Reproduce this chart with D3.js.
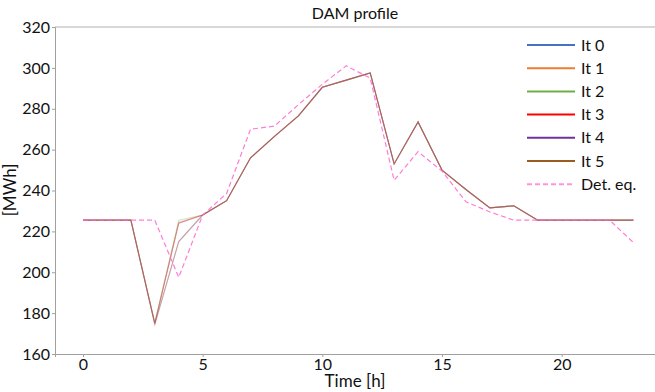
<!DOCTYPE html>
<html>
<head>
<meta charset="utf-8">
<script src="https://cdn.jsdelivr.net/npm/d3@7"></script>
<style>
  html, body { margin: 0; padding: 0; background: #fff; }
  svg { display: block; font-family: Lato, "Open Sans", sans-serif; }
</style>
</head>
<body>
<div id="chart"></div>
<script>
const width = 655;
const height = 392;
const margin = {top: 27, right: 0, bottom: 38, left: 55};

const hours = d3.range(24);
const xTicks = [0, 5, 10, 15, 20];
const yTicks = [160, 180, 200, 220, 240, 260, 280, 300, 320];

const it0 = [225.5, 225.5, 225.5, 175, 224, 228, 235, 256, 266.5, 276.5, 290.5, 294, 297.5, 253, 273.5, 250, 240.5, 231.5, 232.5, 225.5, 225.5, 225.5, 225.5, 225.5];
const it1 = [225.5, 225.5, 225.5, 175, 224.5, 228, 235, 256, 266.5, 276.5, 290.5, 294, 297.5, 253, 273.5, 250, 240.5, 231.5, 232.5, 225.5, 225.5, 225.5, 225.5, 225.5];
const it2 = [225.5, 225.5, 225.5, 175.5, 225.5, 228, 235, 256, 266.5, 276.5, 290.5, 294, 297.5, 253, 273.5, 250, 240.5, 231.5, 232.5, 225.5, 225.5, 225.5, 225.5, 225.5];
const it3 = [225.5, 225.5, 225.5, 175, 224, 228, 235, 256, 266.5, 276.5, 290.5, 294, 297.5, 253, 273.5, 250, 240.5, 231.5, 232.5, 225.5, 225.5, 225.5, 225.5, 225.5];
const it4 = [225.5, 225.5, 225.5, 174.5, 215, 228, 235, 256, 266.5, 276.5, 290.5, 294, 297.5, 253, 273.5, 250, 240.5, 231.5, 232.5, 225.5, 225.5, 225.5, 225.5, 225.5];
const it5 = [225.5, 225.5, 225.5, 174.5, 215, 228, 235, 256, 266.5, 276.5, 290.5, 294, 297.5, 253, 273.5, 250, 240.5, 231.5, 232.5, 225.5, 225.5, 225.5, 225.5, 225.5];
const detEq = [225.5, 225.5, 225.5, 225.5, 197.5, 228, 238.5, 270, 271.5, 282, 292, 301, 295, 245, 259, 249.5, 234.5, 229.5, 225.5, 225.5, 225.5, 225.5, 225.5, 214.5];

const seriesNames = ["It 0", "It 1", "It 2", "It 3", "It 4", "It 5", "Det. eq."];
const seriesValues = [it0, it1, it2, it3, it4, it5, detEq];
const colors = ["#4472c4", "#ed7d31", "#70ad47", "#ff0000", "#7030a0", "#9c5b1f", "#ff66cc"];

const svg = d3.select('#chart')
  .append('svg')
  .attr('width', width)
  .attr('height', height);

const x = d3.scaleLinear()
  .domain([-1.17, 23.9])
  .range([margin.left, width - margin.right]);

const y = d3.scaleLinear()
  .domain([160, 320])
  .range([height - margin.bottom, margin.top]);

// top frame line
svg.append('line')
  .attr('x1', margin.left).attr('x2', width)
  .attr('y1', y(320)).attr('y2', y(320))
  .attr('stroke', '#b0b0b0');

function yAxis(g){
  g.attr('transform', `translate(${margin.left}, 0)`)
    .call(d3.axisLeft(y).tickValues(yTicks).tickSize(3).tickPadding(2))
    .attr('font-size', 16)
    .attr('font-family', 'Lato, "Open Sans", sans-serif');
  g.select('.domain').attr('stroke', '#a0a0a0');
  g.selectAll('.tick line').attr('stroke', '#a0a0a0');
  g.selectAll('text').attr('fill', '#111');
}

function xAxis(g){
  g.attr('transform', `translate(0, ${height - margin.bottom})`)
    .call(d3.axisBottom(x).tickValues(xTicks).tickSize(3).tickPadding(2))
    .attr('font-size', 16)
    .attr('font-family', 'Lato, "Open Sans", sans-serif');
  g.select('.domain').attr('stroke', '#a0a0a0');
  g.selectAll('.tick line').attr('stroke', '#a0a0a0');
  g.selectAll('text').attr('fill', '#111');
}

svg.append('g').call(yAxis);
svg.append('g').call(xAxis);

const line = d3.line()
  .x((d, i) => x(hours[i]))
  .y(d => y(d));

svg.append('g')
  .selectAll('path')
  .data(seriesValues)
  .enter()
  .append('path')
    .attr('d', d => line(d))
    .attr('fill', 'none')
    .attr('stroke', (d, i) => colors[i])
    .attr('stroke-width', (d, i) => i === 6 ? 1.2 : 1.1)
    .attr('stroke-opacity', (d, i) => i === 6 ? 0.85 : 0.3)
    .attr('stroke-dasharray', (d, i) => i === 6 ? '5,3' : null);

// legend
const legend = svg.append('g')
  .selectAll('g')
  .data(seriesNames)
  .enter()
  .append('g')
    .attr('transform', (d, i) => `translate(527, ${45 + i * 23.2})`);

legend.append('line')
  .attr('x1', 0).attr('x2', 48)
  .attr('stroke', (d, i) => colors[i])
  .attr('stroke-width', 2)
  .attr('stroke-opacity', (d, i) => i === 6 ? 0.7 : 1)
  .attr('stroke-dasharray', (d, i) => i === 6 ? '5,3' : null);

legend.append('text')
  .attr('x', 54)
  .attr('dy', '0.35em')
  .attr('font-size', 16)
  .attr('fill', '#111')
  .text(d => d);

// title and labels
svg.append('text')
  .attr('x', 355).attr('y', 19)
  .attr('text-anchor', 'middle')
  .attr('font-size', 16)
  .attr('fill', '#111')
  .text('DAM profile');

svg.append('text')
  .attr('x', 355).attr('y', 387)
  .attr('text-anchor', 'middle')
  .attr('font-size', 17)
  .attr('fill', '#111')
  .text('Time [h]');

svg.append('text')
  .attr('transform', 'translate(16, 190) rotate(-90)')
  .attr('text-anchor', 'middle')
  .attr('font-size', 17)
  .attr('fill', '#111')
  .text('[MWh]');
</script>
</body>
</html>
